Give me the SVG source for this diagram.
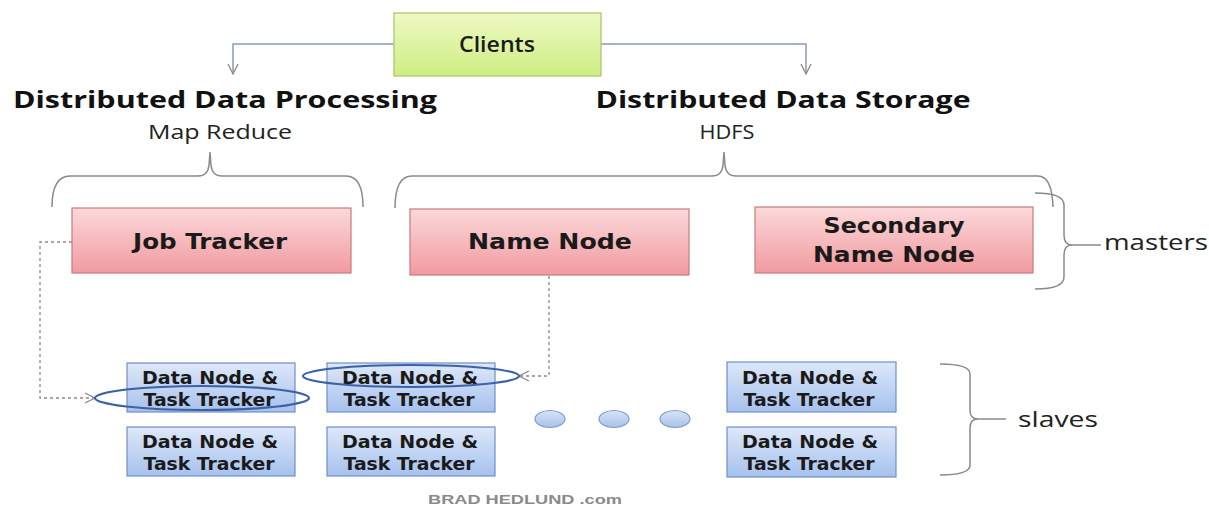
<svg xmlns="http://www.w3.org/2000/svg" width="1209" height="511" viewBox="0 0 1209 511">
  <style>
    .head { font-family: "Open Sans", "Liberation Sans", sans-serif; font-weight: 700; font-size: 24px; fill: #111; }
    .sub { font-family: "Open Sans", "Liberation Sans", sans-serif; font-size: 20px; fill: #222; }
    .lbl { font-family: "DejaVu Sans", "Liberation Sans", sans-serif; font-weight: 700; fill: #1a1a1a; text-anchor: middle; }
    .big { font-size: 21px; }
    .small { font-size: 17px; }
    .side { font-family: "Open Sans", "Liberation Sans", sans-serif; font-size: 22px; fill: #222; }
    .brace { fill: none; stroke: #8a8a8a; stroke-width: 1.5; }
    .master { fill: url(#pink); stroke: #c97a7d; stroke-width: 1.2; }
    .slave { fill: url(#blue); stroke: #6f8fc4; stroke-width: 1.2; }
    .conn { fill: none; stroke: #8a9bb5; stroke-width: 1.5; }
    .dash { fill: none; stroke: #8a8a8a; stroke-width: 1.3; stroke-dasharray: 3 3; }
    .ring { fill: none; stroke: #3b62a6; stroke-width: 2.2; }
    .dot { fill: url(#dotg); stroke: #7d9bc9; stroke-width: 1.2; }
  </style>
  <defs>
    <linearGradient id="pink" x1="0" y1="0" x2="0" y2="1">
      <stop offset="0" stop-color="#fbd9da"/>
      <stop offset="1" stop-color="#f19aa0"/>
    </linearGradient>
    <linearGradient id="blue" x1="0" y1="0" x2="0" y2="1">
      <stop offset="0" stop-color="#dde8f9"/>
      <stop offset="1" stop-color="#a6c1ee"/>
    </linearGradient>
    <linearGradient id="green" x1="0" y1="0" x2="0" y2="1">
      <stop offset="0" stop-color="#eef9c4"/>
      <stop offset="1" stop-color="#cdee82"/>
    </linearGradient>
    <linearGradient id="dotg" x1="0" y1="0" x2="0" y2="1">
      <stop offset="0" stop-color="#d7e4f6"/>
      <stop offset="1" stop-color="#a9c2e9"/>
    </linearGradient>
    <marker id="vee" viewBox="0 0 12 12" refX="11" refY="6" markerWidth="12" markerHeight="12" markerUnits="userSpaceOnUse" orient="auto">
      <path d="M1,1 L11,6 L1,11" fill="none" stroke="#8a8a8a" stroke-width="1.3"/>
    </marker>
  </defs>

  <rect width="1209" height="511" fill="#ffffff"/>

  <!-- connectors -->
  <g id="connectors">
    <path class="conn" d="M394,44 L233,44 L233,74" marker-end="url(#vee)"/>
    <path class="conn" d="M601,44 L806,44 L806,74" marker-end="url(#vee)"/>
    <path class="dash" d="M72,242 L40,242 L40,398 L95,398" marker-end="url(#vee)"/>
    <path class="dash" d="M549,276 L549,376 L519,376" marker-end="url(#vee)"/>
  </g>

  <!-- headings -->
  <text class="head" x="225" y="108" text-anchor="middle" textLength="424" lengthAdjust="spacingAndGlyphs">Distributed Data Processing</text>
  <text class="sub" x="220" y="139" text-anchor="middle" textLength="144" lengthAdjust="spacingAndGlyphs">Map Reduce</text>
  <text class="head" x="783" y="108" text-anchor="middle" textLength="375" lengthAdjust="spacingAndGlyphs">Distributed Data Storage</text>
  <text class="sub" x="727" y="139" text-anchor="middle" textLength="55" lengthAdjust="spacingAndGlyphs">HDFS</text>

  <!-- grouping braces -->
  <g id="braces">
    <path class="brace" d="M52,207 Q52,176 70,176 L198,176 Q208,176 209,165 L210,152 L211,165 Q212,176 222,176 L346,176 Q363,176 363,207"/>
    <path class="brace" d="M395,208 Q395,176 412,176 L712,176 Q722,176 723,165 L724,152 L725,165 Q726,176 736,176 L1038,176 Q1052,176 1053,207"/>
    <path class="brace" d="M1035,193 Q1064,193 1064,205 L1064,235 Q1064,245 1072,245 Q1064,245 1064,255 L1064,277 Q1064,289 1035,289"/>
    <path class="brace" d="M1072,245 L1101,245"/>
    <path class="brace" d="M940,364 Q970,364 970,374 L970,410 Q970,419 978,419 Q970,419 970,428 L970,465 Q970,475 940,475"/>
    <path class="brace" d="M978,419 L1006,419"/>
  </g>
  <text class="side" x="1104" y="250" textLength="104" lengthAdjust="spacingAndGlyphs">masters</text>
  <text class="side" x="1018" y="427" textLength="80" lengthAdjust="spacingAndGlyphs">slaves</text>

  <!-- clients -->
  <g id="clients">
    <rect x="394" y="13" width="207" height="63" fill="url(#green)" stroke="#a8c466" stroke-width="1.2"/>
    <text class="lbl" x="497" y="52" textLength="76" lengthAdjust="spacingAndGlyphs" style="font-family:'Open Sans','Liberation Sans',sans-serif;font-size:21px;font-weight:600">Clients</text>
  </g>

  <!-- masters -->
  <g id="job-tracker">
    <rect class="master" x="72" y="208" width="279" height="65"/>
    <text class="lbl big" x="210" y="249" textLength="154" lengthAdjust="spacingAndGlyphs">Job Tracker</text>
  </g>
  <g id="name-node">
    <rect class="master" x="410" y="209" width="279" height="66"/>
    <text class="lbl big" x="550" y="249" textLength="164" lengthAdjust="spacingAndGlyphs">Name Node</text>
  </g>
  <g id="secondary-name-node">
    <rect class="master" x="755" y="207" width="278" height="66"/>
    <text class="lbl big" x="894" y="233" textLength="141" lengthAdjust="spacingAndGlyphs">Secondary</text>
    <text class="lbl big" x="894" y="262" textLength="162" lengthAdjust="spacingAndGlyphs">Name Node</text>
  </g>

  <!-- slaves -->
  <g id="slave-1">
    <rect class="slave" x="127" y="363" width="168" height="49"/>
    <text class="lbl small" x="210" y="384" textLength="136" lengthAdjust="spacingAndGlyphs">Data Node &amp;</text>
    <text class="lbl small" x="209" y="406" textLength="131" lengthAdjust="spacingAndGlyphs">Task Tracker</text>
  </g>
  <g id="slave-2">
    <rect class="slave" x="327" y="363" width="168" height="49"/>
    <text class="lbl small" x="410" y="384" textLength="136" lengthAdjust="spacingAndGlyphs">Data Node &amp;</text>
    <text class="lbl small" x="409" y="406" textLength="131" lengthAdjust="spacingAndGlyphs">Task Tracker</text>
  </g>
  <g id="slave-3">
    <rect class="slave" x="727" y="362" width="169" height="50"/>
    <text class="lbl small" x="810" y="384" textLength="136" lengthAdjust="spacingAndGlyphs">Data Node &amp;</text>
    <text class="lbl small" x="809" y="406" textLength="131" lengthAdjust="spacingAndGlyphs">Task Tracker</text>
  </g>
  <g id="slave-4">
    <rect class="slave" x="127" y="427" width="168" height="49"/>
    <text class="lbl small" x="210" y="448" textLength="136" lengthAdjust="spacingAndGlyphs">Data Node &amp;</text>
    <text class="lbl small" x="209" y="470" textLength="131" lengthAdjust="spacingAndGlyphs">Task Tracker</text>
  </g>
  <g id="slave-5">
    <rect class="slave" x="327" y="427" width="168" height="49"/>
    <text class="lbl small" x="410" y="448" textLength="136" lengthAdjust="spacingAndGlyphs">Data Node &amp;</text>
    <text class="lbl small" x="409" y="470" textLength="131" lengthAdjust="spacingAndGlyphs">Task Tracker</text>
  </g>
  <g id="slave-6">
    <rect class="slave" x="727" y="427" width="169" height="50"/>
    <text class="lbl small" x="810" y="448" textLength="136" lengthAdjust="spacingAndGlyphs">Data Node &amp;</text>
    <text class="lbl small" x="809" y="470" textLength="131" lengthAdjust="spacingAndGlyphs">Task Tracker</text>
  </g>

  <!-- highlighted daemons -->
  <ellipse class="ring" cx="202" cy="398" rx="107" ry="12"/>
  <ellipse class="ring" cx="411" cy="376" rx="108" ry="11"/>

  <!-- more slaves -->
  <g id="ellipsis">
    <ellipse class="dot" cx="550" cy="419" rx="15" ry="8.5"/>
    <ellipse class="dot" cx="614" cy="419" rx="15" ry="8.5"/>
    <ellipse class="dot" cx="675" cy="419" rx="15" ry="8.5"/>
  </g>

  <text x="525" y="504" text-anchor="middle" textLength="194" lengthAdjust="spacingAndGlyphs" style="font-family:'Liberation Sans',sans-serif;font-weight:700;font-size:13px;fill:#8a8a8a">BRAD HEDLUND .com</text>
</svg>
